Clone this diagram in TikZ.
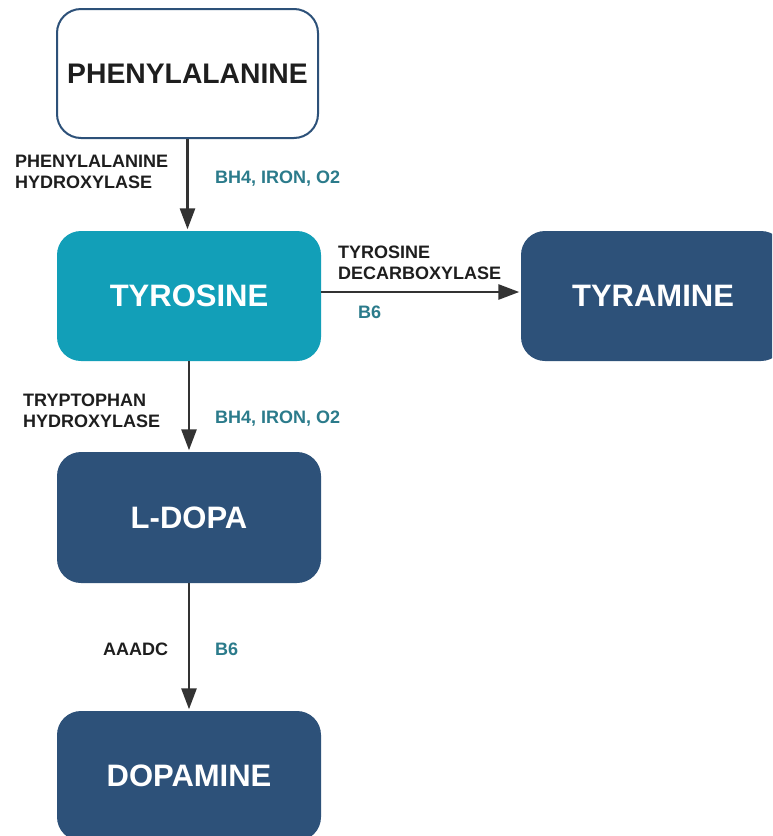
\documentclass[tikz,border=0pt]{standalone}
\usepackage{fontspec}
\setmainfont{Liberation Sans}
\usetikzlibrary{arrows.meta}
\definecolor{dblue}{HTML}{2D5179}
\definecolor{tealfill}{HTML}{129FB8}
\definecolor{tealtxt}{HTML}{2B7B8B}
\definecolor{arrowc}{HTML}{333333}
\definecolor{lblc}{HTML}{1E1E1E}
\begin{document}
\begin{tikzpicture}[x=1pt,y=-1pt,
  box/.style={rounded corners=24pt, minimum width=264pt, minimum height=130pt, inner sep=0pt,
    font=\fontsize{31}{36}\selectfont\bfseries, text=white, fill=dblue},
  lbl/.style={anchor=base west, inner sep=0pt, align=left,
    font=\fontsize{18}{20.5}\selectfont\bfseries, text=lblc},
  cof/.style={anchor=base west, inner sep=0pt,
    font=\fontsize{18}{21}\selectfont\bfseries, text=tealtxt},
  conn/.style={draw=arrowc, line width=2.8pt, shorten >=1.5pt, -{Triangle[length=21pt,width=15pt]}}]
\useasboundingbox (0,0) rectangle (772,836);
\clip (0,0) rectangle (772,836);
\fill[white] (0,0) rectangle (772,836);

\node[box, fill=white, draw=dblue, line width=2pt, text=lblc, minimum width=261pt, minimum height=129pt,
  font=\fontsize{28.3}{34}\selectfont\bfseries] (p) at (187.5,73.5) {PHENYLALANINE};
\node[box, fill=tealfill] (t) at (189,296) {TYROSINE};
\node[box] (r) at (653,296) {TYRAMINE};
\node[box, minimum height=131pt] (l) at (189,517.5) {L-DOPA};
\node[box] (d) at (189,776) {DOPAMINE};

\draw[conn] (p.south) -- (p.south |- t.north);
\draw[conn] (t.south) -- (l.north);
\draw[conn] (l.south) -- (d.north);
\draw[conn] ([yshift=4pt]t.east) -- ([yshift=4pt]t.east -| r.west);

\node[lbl] (l1) at (15,188) {PHENYLALANINE\\HYDROXYLASE};
\node[cof] (c1) at (215,183) {BH4, IRON, O2};
\node[lbl] (l2) at (338,279) {TYROSINE\\DECARBOXYLASE};
\node[cof] (c2) at (358,318) {B6};
\node[lbl] (l3) at (23,427) {TRYPTOPHAN\\HYDROXYLASE};
\node[cof] (c3) at (215,423) {BH4, IRON, O2};
\node[lbl] (l4) at (103,655) {AAADC};
\node[cof] (c4) at (215,655) {B6};
\end{tikzpicture}
\end{document}
